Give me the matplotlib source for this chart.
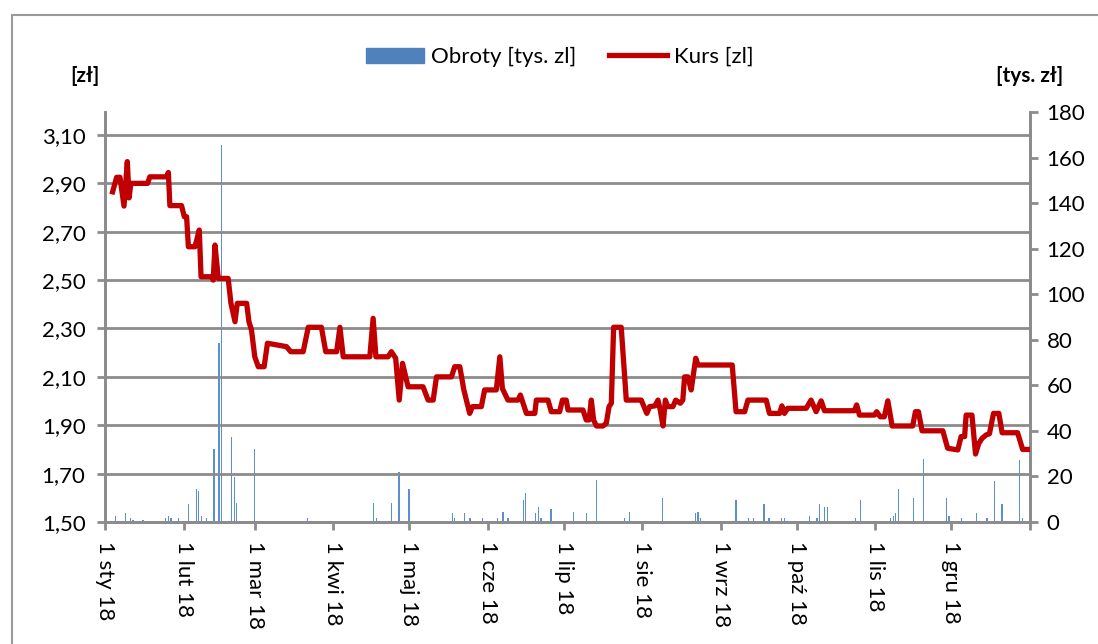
import numpy as np
import pandas as pd
import matplotlib
matplotlib.use("Agg")
import matplotlib.pyplot as plt
import matplotlib.dates as mdates
from matplotlib.patches import Rectangle, Patch
from matplotlib.lines import Line2D

plt.rcParams['font.family'] = ['Lato', 'DejaVu Sans']

# kurs - dni od 1 sty 2018 i cena [zl]
kurs_dni = [3, 4.6, 5.9, 7.5, 8.8, 9.5, 10.2, 16.8, 17.7, 24.3, 25, 25.6, 30.2, 31.3, 32.2,
            32.9, 35.5, 37.2, 37.9, 42, 42.7, 43.4, 44.7, 48.6, 49.7, 51.3, 52.2, 55.9, 56.8,
            57.8, 59.1, 60.5, 62.8, 64.1, 71.6, 73.3, 78.2, 80.2, 85.4, 87.1, 91.4, 92.7, 94,
            104.5, 105.8, 106.9, 111.7, 113, 114.7, 116.1, 117.4, 119.6, 125.5, 127.5, 129.5,
            130.8, 136.7, 138, 140, 141.6, 143.9, 145, 148.5, 149.8, 154.4, 155.8, 156.8, 159,
            163, 163.9, 166.3, 169.6, 170.2, 174.8, 176.1, 179.4, 180.5, 182, 182.7, 188.6,
            189.9, 191, 191.9, 192.8, 193.9, 196.5, 197.8, 198.9, 199.8, 200.7, 203.7, 205.7,
            211.6, 213.8, 214.9, 217, 218.2, 219.1, 220.2, 221.1, 222.1, 224.1, 225.2, 227,
            228, 228.7, 230, 231.3, 233.1, 234, 247.5, 249, 252.4, 253.7, 260.9, 262.2, 266.2,
            267.1, 268.1, 269.4, 276.7, 278.6, 280.6, 282.6, 283.9, 295.7, 296.6, 297.7, 303.6,
            304.5, 305.9, 307.5, 308.9, 310.6, 318.7, 319.8, 321, 322.4, 330.6, 332.5, 336.5,
            337.8, 339.2, 339.8, 342.1, 343.5, 344.8, 346.1, 347.7, 349, 350.6, 352.7, 354,
            360.1, 362.1, 364]
kurs = [2.865, 2.925, 2.925, 2.806, 2.99, 2.84, 2.90, 2.90, 2.927, 2.927, 2.945, 2.808, 2.808,
        2.762, 2.762, 2.638, 2.638, 2.707, 2.514, 2.514, 2.50, 2.645, 2.507, 2.507, 2.404,
        2.328, 2.404, 2.404, 2.328, 2.294, 2.183, 2.142, 2.142, 2.239, 2.225, 2.204, 2.204,
        2.305, 2.305, 2.204, 2.204, 2.305, 2.183, 2.183, 2.342, 2.183, 2.183, 2.204, 2.177,
        2.004, 2.156, 2.059, 2.059, 2.004, 2.004, 2.10, 2.10, 2.142, 2.142, 2.046, 1.949,
        1.977, 1.977, 2.046, 2.046, 2.183, 2.052, 2.004, 2.004, 2.025, 1.949, 1.949, 2.004,
        2.004, 1.956, 1.956, 2.004, 2.004, 1.963, 1.963, 1.922, 1.922, 2.004, 1.922, 1.897,
        1.897, 1.908, 1.977, 1.991, 2.305, 2.305, 2.004, 2.004, 1.949, 1.977, 1.980, 2.004,
        1.963, 1.897, 2.004, 1.977, 1.977, 2.004, 1.991, 2.004, 2.10, 2.10, 2.046, 2.177,
        2.149, 2.149, 1.956, 1.956, 2.004, 2.004, 1.949, 1.949, 1.980, 1.949, 1.970, 1.970,
        2.004, 1.956, 2.001, 1.960, 1.960, 1.984, 1.942, 1.942, 1.956, 1.935, 1.935, 2.001,
        1.897, 1.897, 1.956, 1.956, 1.877, 1.877, 1.805, 1.798, 1.853, 1.853, 1.942, 1.942,
        1.781, 1.825, 1.846, 1.86, 1.865, 1.949, 1.949, 1.869, 1.869, 1.80, 1.80]

# obroty - dni od 1 sty 2018 i wartosc [tys. zl]
obroty_dni = [4, 8, 10, 11, 15, 24, 25, 26, 29, 33, 36, 37, 38, 40, 43, 44, 45, 46, 50, 51,
              52, 53, 58, 59, 60, 61, 64, 65, 80, 96, 106, 107, 113, 116, 117, 120, 127, 137,
              138, 142, 144, 149, 150, 155, 157, 159, 165, 166, 170, 171, 172, 176, 183, 185,
              190, 194, 198, 199, 201, 205, 207, 213, 214, 220, 222, 226, 228, 233, 234, 235,
              249, 254, 256, 260, 262, 267, 268, 269, 278, 281, 282, 284, 285, 296, 298, 310,
              311, 312, 313, 319, 320, 323, 332, 333, 337, 338, 340, 344, 345, 346, 348, 351,
              354, 361, 362]
obroty = [2.6, 3.8, 1.6, 0.9, 0.9, 1.6, 2.6, 1.6, 1.6, 7.9, 14.6, 13.5, 2.6, 1.6, 32, 0.5,
          78.4, 165.5, 37.2, 19.6, 8.5, 0.5, 0.5, 32, 0.5, 0.5, 0.5, 0.5, 1.6, 0.5, 8.5, 1.6,
          8.5, 21.8, 0.5, 14.6, 0.5, 3.8, 1.6, 3.8, 1.6, 1.6, 0.5, 1.6, 4.5, 1.6, 9.7, 12.9,
          3.8, 6.7, 1.6, 5.6, 0.5, 4.5, 3.8, 18.4, 0.5, 0.5, 0.5, 1.6, 4.5, 0.5, 0.5, 10.7,
          0.5, 0.5, 0.5, 3.8, 4.5, 1.6, 9.7, 1.6, 1.6, 7.9, 1.6, 1.6, 1.6, 0.5, 2.6, 1.6, 7.9,
          6.7, 6.7, 1.6, 9.7, 1.6, 2.6, 3.8, 14.6, 10.7, 0.5, 27.5, 10.7, 2.6, 0.5, 1.6, 0.5,
          3.8, 0.5, 0.5, 1.6, 18, 7.9, 27.1, 1.6]

miesiace = ['sty', 'lut', 'mar', 'kwi', 'maj', 'cze', 'lip', 'sie', 'wrz', 'paź', 'lis', 'gru']

start = pd.Timestamp('2018-01-01')
kurs_daty = start + pd.to_timedelta(kurs_dni, unit='D')
obroty_daty = start + pd.to_timedelta(obroty_dni, unit='D')

grey = '#8c8c8c'
fig = plt.figure(figsize=(10.98, 6.44), dpi=100)
fig.patches.append(Rectangle((12 / 1098, -0.1), 1.2, 1 - 15 / 644 + 0.1,
                             transform=fig.transFigure, fill=False, ec='#9a9a9a', lw=1.5))

ax = fig.add_axes([105 / 1098, 1 - 522 / 644, 925 / 1098, 410 / 644])
ax2 = ax.twinx()
ax.set_zorder(ax2.get_zorder() + 1)
ax.patch.set_visible(False)

ax2.bar(obroty_daty, obroty, width=0.5, color='#5b8fd0', zorder=2)
ax.plot(kurs_daty, kurs, color='#c00000', lw=3.8, solid_joinstyle='round', zorder=3)

ax.set_xlim(start, pd.Timestamp('2019-01-01'))
ax.set_ylim(1.5, 3.195)
ax2.set_ylim(0, 180)

ax.set_yticks(np.arange(1.5, 3.11, 0.2))
ax.set_yticklabels([f'{v:.2f}'.replace('.', ',') for v in np.arange(1.5, 3.11, 0.2)])
ax2.set_yticks(range(0, 181, 20))

ticks = [pd.Timestamp(2018, m, 1) for m in range(1, 13)] + [pd.Timestamp('2019-01-01')]
ax.set_xticks(ticks)
ax.set_xticklabels([f'1 {m} 18' for m in miesiace] + [''], rotation=-90, va='top', ha='center')

ax.grid(axis='y', color=grey, lw=2)
ax.set_axisbelow(True)
for a in (ax, ax2):
    a.spines['top'].set_visible(False)
    for s in ('left', 'right', 'bottom'):
        a.spines[s].set_color(grey)
        a.spines[s].set_linewidth(2)
    a.tick_params(colors=grey, labelcolor='black', labelsize=16, width=2, length=6)
ax.tick_params(axis='y', pad=8)
ax2.tick_params(axis='y', pad=6)
ax.tick_params(axis='x', pad=8)

fig.text(85 / 1098, 1 - 76 / 644, '[zł]', fontsize=15, fontweight='bold', ha='center', va='center')
fig.text(1030 / 1098, 1 - 76 / 644, '[tys. zł]', fontsize=15, fontweight='bold', ha='center', va='center')

uchwyty = [Patch(color='#4f81bd'), Line2D([0], [0], color='#c00000', lw=3.8)]
fig.legend(uchwyty, ['Obroty [tys. zl]', 'Kurs [zl]'], loc='center', ncol=2,
           bbox_to_anchor=(0.51, 1 - 57 / 644), frameon=False, fontsize=16,
           handlelength=2.6, handleheight=0.7, columnspacing=1.5, handletextpad=0.3)

fig.savefig('out.png', dpi=100)
